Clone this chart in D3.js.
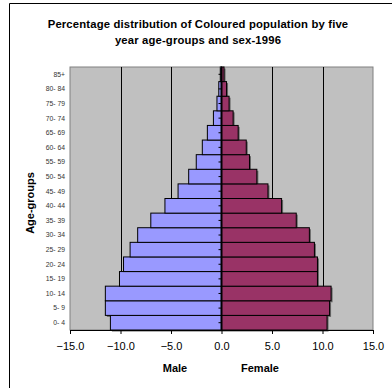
<!DOCTYPE html>
<html><head><meta charset="utf-8">
<script src="https://cdn.jsdelivr.net/npm/d3@7"></script>
<style>body{margin:0;background:#fff}svg{display:block}text{font-family:"Liberation Sans",Arial,sans-serif}</style>
</head><body><svg id="c" width="392" height="388"></svg>
<script>
const ageGroups = ["0-4","5-9","10-14","15-19","20-24","25-29","30-34","35-39","40-44","45-49","50-54","55-59","60-64","65-69","70-74","75-79","80-84","85+"];
const maleValues = [11.0,11.5,11.5,10.1,9.7,9.05,8.3,7.0,5.6,4.3,3.25,2.5,1.9,1.4,0.8,0.45,0.27,0.12];
const femaleValues = [10.45,10.7,10.85,9.5,9.5,9.2,8.7,7.4,5.95,4.6,3.5,2.77,2.45,1.65,1.15,0.75,0.5,0.25];
const xTicks = [-15,-10,-5,0,5,10,15];
const gridValues = [-10,-5,5,10];

const svg = d3.select("#c");
const L=70,R=373,T=67,B=330;
const x = d3.scaleLinear().domain([-15,15]).range([L,R]);
const y = d3.scaleBand().domain(ageGroups.slice().reverse()).range([T,B]).padding(0);

svg.append("path").attr("d","M9.5,388 V3.5 H392").attr("fill","none").attr("stroke","#000").attr("stroke-width",1);

svg.append("text").attr("x",198).attr("y",28).attr("text-anchor","middle").attr("font-size",11.3).attr("font-weight","bold").attr("letter-spacing",0.15).text("Percentage distribution of Coloured population by five");
svg.append("text").attr("x",198).attr("y",44).attr("text-anchor","middle").attr("font-size",11.3).attr("font-weight","bold").attr("letter-spacing",0.15).text("year age-groups and sex-1996");

svg.append("rect").attr("x",L).attr("y",T).attr("width",R-L).attr("height",B-T).attr("fill","#C0C0C0").attr("stroke","#808080").attr("stroke-width",1);

svg.selectAll(".grid").data(gridValues).enter().append("line")
  .attr("x1",d=>Math.round(x(d))+0.5).attr("x2",d=>Math.round(x(d))+0.5).attr("y1",T).attr("y2",B)
  .attr("stroke","#000").attr("stroke-width",1);

const rows = ageGroups.map((g,i)=>({g, m:maleValues[i], f:femaleValues[i]}));
const bh = y.bandwidth();
svg.selectAll(".ms").data(rows).enter().append("rect")
  .attr("x",d=>x(-d.m)+1.5).attr("y",d=>y(d.g)+1.5).attr("width",d=>x(0)-x(-d.m)).attr("height",bh).attr("fill","#666");
svg.selectAll(".fs").data(rows).enter().append("rect")
  .attr("x",d=>x(0)+1.5).attr("y",d=>y(d.g)+1.5).attr("width",d=>x(d.f)-x(0)).attr("height",bh).attr("fill","#666");
svg.selectAll(".mb").data(rows).enter().append("rect")
  .attr("x",d=>x(-d.m)).attr("y",d=>y(d.g)).attr("width",d=>x(0)-x(-d.m)).attr("height",bh)
  .attr("fill","#9999FF").attr("stroke","#000").attr("stroke-width",1);
svg.selectAll(".fb").data(rows).enter().append("rect")
  .attr("x",d=>x(0)).attr("y",d=>y(d.g)).attr("width",d=>x(d.f)-x(0)).attr("height",bh)
  .attr("fill","#993366").attr("stroke","#000").attr("stroke-width",1);

svg.append("line").attr("x1",x(0)).attr("x2",x(0)).attr("y1",T).attr("y2",B).attr("stroke","#000").attr("stroke-width",2);
svg.selectAll(".zt").data(ageGroups).enter().append("line")
  .attr("x1",x(0)-3).attr("x2",x(0)).attr("y1",d=>y(d)+bh/2).attr("y2",d=>y(d)+bh/2).attr("stroke","#000").attr("stroke-width",1);

svg.selectAll(".cl").data(ageGroups).enter().append("text")
  .attr("x",65).attr("y",d=>y(d)+bh/2).attr("dy","0.35em").attr("text-anchor","end")
  .attr("font-size",6.8).attr("fill","#333").text(d=>d.replace("-","- "));

const xAxis = d3.axisBottom(x).tickValues(xTicks).tickFormat(d3.format(".1f")).tickSize(4);
const gx = svg.append("g").attr("transform",`translate(0,${B})`).call(xAxis);
gx.select(".domain").attr("stroke","#000").attr("d",`M${L},0.5H${R}`);
gx.selectAll("text").attr("font-size",11).attr("fill","#000").attr("dy","1.2em").attr("font-family","Liberation Sans, Arial, sans-serif");

svg.append("text").attr("x",175).attr("y",372).attr("text-anchor","middle").attr("font-size",11).attr("font-weight","bold").text("Male");
svg.append("text").attr("x",260).attr("y",372).attr("text-anchor","middle").attr("font-size",11).attr("font-weight","bold").text("Female");

svg.append("text").attr("transform","translate(34,203) rotate(-90)").attr("text-anchor","middle").attr("font-size",11).attr("font-weight","bold").text("Age-groups");
</script></body></html>
